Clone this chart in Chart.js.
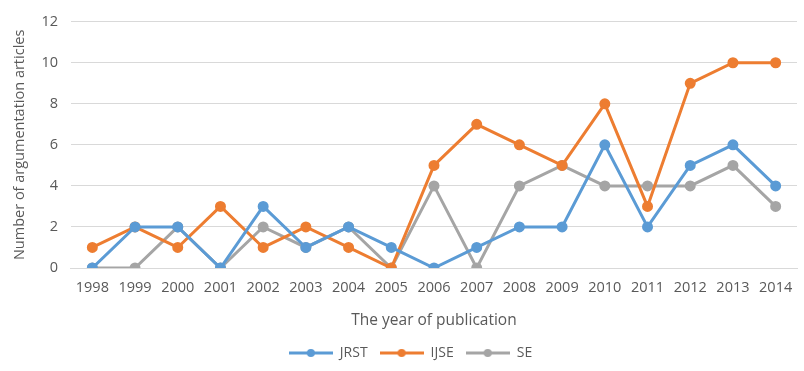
<!DOCTYPE html>
<html>
<head>
<meta charset="utf-8">
<script src="https://cdn.jsdelivr.net/npm/chart.js@4"></script>
<style>
  html, body { margin:0; padding:0; background:#fff; }
  #wrap { width:804px; height:371px; }
</style>
</head>
<body>
<div id="wrap"><canvas id="grafico"></canvas></div>
<script>
// DATA
const years = ["1998","1999","2000","2001","2002","2003","2004","2005","2006","2007","2008","2009","2010","2011","2012","2013","2014"];
const jrst = [0,2,2,0,3,1,2,1,0,1,2,2,6,2,5,6,4];
const ijse = [1,2,1,3,1,2,1,0,5,7,6,5,8,3,9,10,10];
const se   = [0,0,2,0,2,1,2,0,4,0,4,5,4,4,4,5,3];
const yTicks = [0,2,4,6,8,10,12];

const BLUE = "#5B9BD5", ORANGE = "#ED7D31", GRAY = "#A5A5A5";
const TXT = "#595959";
const FONT = "'Open Sans', 'Liberation Sans', sans-serif";

// legend sample: line with dot
function legendIcon(color){
  const c = document.createElement("canvas");
  c.width = 44; c.height = 10;
  const ctx = c.getContext("2d");
  ctx.strokeStyle = color; ctx.lineWidth = 3;
  ctx.beginPath(); ctx.moveTo(0,5); ctx.lineTo(44,5); ctx.stroke();
  ctx.fillStyle = color;
  ctx.beginPath(); ctx.arc(22,5,4,0,Math.PI*2); ctx.fill();
  return c;
}

function serie(label, values, color){
  return {
    label, data: values,
    borderColor: color, backgroundColor: color,
    borderWidth: 3, pointRadius: 4, pointHoverRadius: 4,
    pointBackgroundColor: color, pointBorderColor: color,
    tension: 0
  };
}

new Chart(document.getElementById("grafico"), {
  type: "line",
  data: {
    labels: years,
    datasets: [serie("JRST", jrst, BLUE), serie("IJSE", ijse, ORANGE), serie("SE", se, GRAY)]
  },
  options: {
    responsive: true,
    maintainAspectRatio: false,
    animation: false,
    layout: { padding: { top: 9, right: -6, left: 11, bottom: 1 } },
    plugins: {
      tooltip: { enabled: false },
      legend: {
        position: "bottom",
        labels: {
          usePointStyle: true,
          pointStyleWidth: 44,
          color: TXT,
          font: { family: FONT, size: 14 },
          padding: 12,
          generateLabels: chart => chart.data.datasets.map((ds, i) => ({
            text: ds.label,
            pointStyle: legendIcon(ds.borderColor),
            fillStyle: ds.borderColor,
            strokeStyle: ds.borderColor,
            fontColor: TXT,
            lineWidth: 0,
            hidden: false,
            datasetIndex: i
          }))
        }
      }
    },
    scales: {
      x: {
        offset: true,
        grid: { display: false, drawTicks: false },
        border: { display: true, color: "#d9d9d9" },
        ticks: { color: TXT, font: { family: FONT, size: 14.5 }, maxRotation: 0, autoSkip: false, padding: 11 },
        title: { display: true, text: "The year of publication", color: TXT, font: { family: FONT, size: 15.5 }, padding: { top: 4, bottom: 4 } }
      },
      y: {
        min: 0, max: 12,
        afterBuildTicks: axis => { axis.ticks = yTicks.map(v => ({ value: v })); },
        grid: { color: "#d9d9d9", lineWidth: 1, drawTicks: false },
        border: { display: false },
        ticks: { color: TXT, font: { family: FONT, size: 14.5 }, padding: 13 },
        title: { display: true, text: "Number of argumentation articles", color: TXT, font: { family: FONT, size: 14.5 }, padding: { top: 0, bottom: 0 } }
      }
    }
  }
});
</script>
</body>
</html>
